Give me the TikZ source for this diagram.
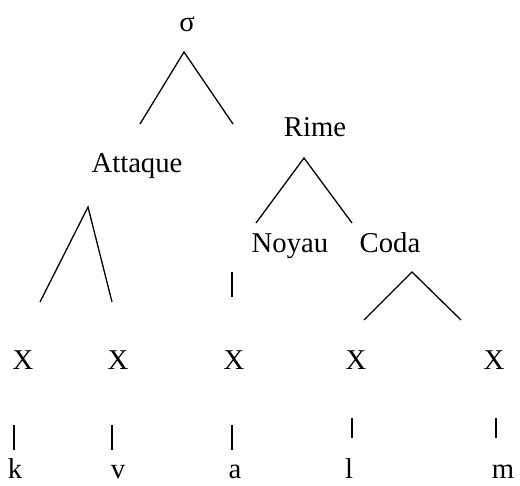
\documentclass[tikz,border=0pt]{standalone}
\usepackage{fontspec}
\setmainfont{Liberation Serif}
\begin{document}
\begin{tikzpicture}[x=0.5pt,y=-0.5pt,
  lab/.style={inner sep=0pt,anchor=base,font=\fontsize{14.35}{17}\selectfont},
  seg/.style={lab,text depth=0pt},
  br/.style={line width=0.65pt}]
\useasboundingbox (0,0) rectangle (520,486);
% labels
\node[lab] (sigma) at (187,32) {σ};
\node[lab] (attaque) at (137,173) {Attaque};
\node[lab] (rime) at (315,137) {Rime};
\node[lab] (noyau) at (290,253) {Noyau};
\node[lab] (coda) at (390,253) {Coda};
\node[lab] (x1) at (23,370) {X};
\node[lab] (x2) at (118,370) {X};
\node[lab] (x3) at (234,370) {X};
\node[lab] (x4) at (356,370) {X};
\node[lab] (x5) at (494,370) {X};
\node[seg] (k) at (15,479) {k};
\node[seg] (v) at (118,479) {v};
\node[seg] (a) at (235,479) {a};
\node[seg] (l) at (349,479) {l};
\node[seg] (m) at (503,479) {m};
% branch points
\coordinate (sA) at (184,52);
\coordinate (sL) at (140,124);
\coordinate (sR) at (233,124);
\coordinate (rA) at (304,158);
\coordinate (rL) at (256,223);
\coordinate (rR) at (352,223);
\coordinate (aA) at (88,207);
\coordinate (aL) at (40,302);
\coordinate (aR) at (112,302);
\coordinate (cA) at (412,272);
\coordinate (cL) at (364,320);
\coordinate (cR) at (461,320);
\coordinate (nT) at (232,272);
\coordinate (nB) at (232,297);
\coordinate (kT) at (14,425); \coordinate (kB) at (14,450);
\coordinate (vT) at (112,425); \coordinate (vB) at (112,450);
\coordinate (aT) at (232,425); \coordinate (aB) at (232,450);
\coordinate (lT) at (352,418); \coordinate (lB) at (352,438);
\coordinate (mT) at (496,418); \coordinate (mB) at (496,438);
% branches
\draw[br] (sL) -- (sA) -- (sR);
\draw[br] (rL) -- (rA) -- (rR);
\draw[br] (aL) -- (aA) -- (aR);
\draw[br] (cL) -- (cA) -- (cR);
\draw[br] (nT) -- (nB);
\draw[br] (kT) -- (kB);
\draw[br] (vT) -- (vB);
\draw[br] (aT) -- (aB);
\draw[br] (lT) -- (lB);
\draw[br] (mT) -- (mB);
\end{tikzpicture}
\end{document}
